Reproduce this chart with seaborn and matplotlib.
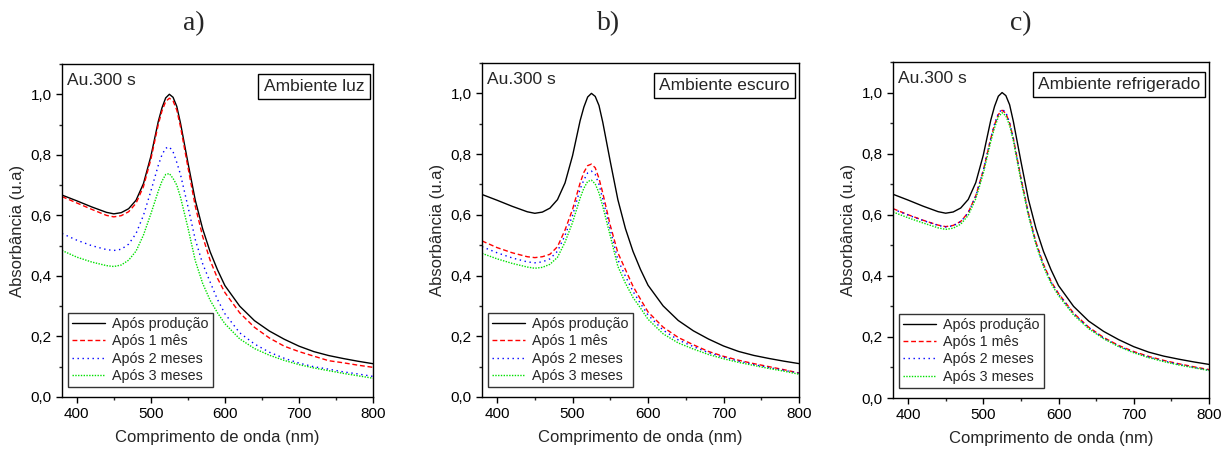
import numpy as np
import pandas as pd
import seaborn as sns
import matplotlib
matplotlib.use("Agg")
import matplotlib.pyplot as plt
from matplotlib.ticker import MultipleLocator, FuncFormatter

# Wavelength grid (nm)
wavelength = [380, 400, 420, 440, 450, 460, 470, 480, 490, 500, 510, 515, 520, 525,
              530, 535, 540, 550, 560, 570, 580, 590, 600, 620, 640, 660, 680, 700,
              720, 740, 760, 780, 800]

# Spectrum right after production (same sample in all panels)
apos_producao = [0.667, 0.648, 0.628, 0.610, 0.605, 0.609, 0.622, 0.650, 0.705, 0.795,
                 0.910, 0.955, 0.988, 1.000, 0.990, 0.960, 0.905, 0.775, 0.650, 0.555,
                 0.480, 0.420, 0.368, 0.300, 0.252, 0.218, 0.191, 0.168, 0.150, 0.137,
                 0.127, 0.118, 0.110]

# a) Ambiente luz
luz_1mes = [0.662, 0.641, 0.620, 0.600, 0.595, 0.599, 0.612, 0.640, 0.695, 0.785,
            0.900, 0.945, 0.976, 0.987, 0.978, 0.948, 0.893, 0.760, 0.630, 0.530,
            0.452, 0.392, 0.345, 0.278, 0.230, 0.195, 0.168, 0.150, 0.135, 0.120,
            0.113, 0.105, 0.098]
luz_2meses = [0.540, 0.518, 0.500, 0.487, 0.484, 0.488, 0.505, 0.540, 0.600, 0.680,
              0.765, 0.800, 0.822, 0.826, 0.810, 0.775, 0.735, 0.630, 0.520, 0.440,
              0.380, 0.322, 0.275, 0.212, 0.175, 0.148, 0.128, 0.112, 0.100, 0.092,
              0.083, 0.076, 0.068]
luz_3meses = [0.484, 0.462, 0.446, 0.434, 0.431, 0.436, 0.452, 0.482, 0.535, 0.605,
              0.680, 0.713, 0.735, 0.738, 0.722, 0.700, 0.660, 0.560, 0.450, 0.375,
              0.320, 0.278, 0.242, 0.192, 0.160, 0.138, 0.121, 0.107, 0.096, 0.087,
              0.078, 0.070, 0.062]

# b) Ambiente escuro
escuro_1mes = [0.514, 0.492, 0.475, 0.462, 0.459, 0.462, 0.470, 0.495, 0.550, 0.618,
               0.705, 0.740, 0.762, 0.767, 0.755, 0.720, 0.672, 0.565, 0.475, 0.420,
               0.365, 0.322, 0.280, 0.230, 0.196, 0.172, 0.150, 0.134, 0.121, 0.110,
               0.100, 0.090, 0.079]
escuro_2meses = [0.495, 0.475, 0.458, 0.445, 0.442, 0.445, 0.455, 0.480, 0.532, 0.598,
                 0.685, 0.715, 0.738, 0.744, 0.733, 0.700, 0.652, 0.550, 0.452, 0.398,
                 0.348, 0.308, 0.270, 0.220, 0.188, 0.166, 0.146, 0.131, 0.118, 0.107,
                 0.097, 0.088, 0.078]
escuro_3meses = [0.473, 0.455, 0.440, 0.428, 0.424, 0.427, 0.437, 0.460, 0.510, 0.575,
                 0.655, 0.688, 0.710, 0.714, 0.702, 0.672, 0.628, 0.530, 0.430, 0.375,
                 0.328, 0.293, 0.256, 0.208, 0.178, 0.158, 0.140, 0.126, 0.114, 0.104,
                 0.094, 0.085, 0.075]

# c) Ambiente refrigerado
refrig_1mes = [0.620, 0.600, 0.582, 0.566, 0.561, 0.565, 0.578, 0.607, 0.662, 0.745,
               0.850, 0.895, 0.928, 0.942, 0.932, 0.900, 0.850, 0.720, 0.605, 0.510,
               0.438, 0.382, 0.342, 0.278, 0.232, 0.198, 0.172, 0.152, 0.136, 0.123,
               0.112, 0.102, 0.093]
refrig_2meses = [0.618, 0.599, 0.581, 0.565, 0.560, 0.564, 0.577, 0.606, 0.661, 0.745,
                 0.851, 0.897, 0.932, 0.946, 0.935, 0.901, 0.849, 0.718, 0.602, 0.507,
                 0.435, 0.380, 0.340, 0.276, 0.230, 0.196, 0.170, 0.150, 0.134, 0.121,
                 0.110, 0.100, 0.091]
refrig_3meses = [0.609, 0.590, 0.573, 0.557, 0.552, 0.556, 0.569, 0.598, 0.652, 0.735,
                 0.840, 0.885, 0.920, 0.934, 0.924, 0.892, 0.842, 0.712, 0.597, 0.502,
                 0.430, 0.375, 0.335, 0.272, 0.227, 0.194, 0.168, 0.148, 0.132, 0.119,
                 0.108, 0.099, 0.090]

series_labels = ["Após produção", "Após 1 mês", "Após 2 meses", "Após 3 meses"]
panel_titles = ["a)", "b)", "c)"]
ambientes = ["Ambiente luz", "Ambiente escuro", "Ambiente refrigerado"]
panels = [
    [apos_producao, luz_1mes, luz_2meses, luz_3meses],
    [apos_producao, escuro_1mes, escuro_2meses, escuro_3meses],
    [apos_producao, refrig_1mes, refrig_2meses, refrig_3meses],
]

colors = ["#000000", "#ff0000", "#0000ff", "#00e000"]
styles = ["-", (0, (3.5, 2.0)), (0, (1.0, 2.6)), (0, (1.0, 1.0))]
widths = [1.0, 1.0, 1.0, 1.0]

sns.set_style("ticks")
plt.rcParams["font.family"] = ["Liberation Sans", "DejaVu Sans"]

fig = plt.figure(figsize=(12.31, 4.53), dpi=100)
positions = [
    [62 / 1231, 56 / 453, 311 / 1231, 333 / 453],
    [482 / 1231, 56 / 453, 317 / 1231, 334 / 453],
    [893 / 1231, 55 / 453, 316 / 1231, 336 / 453],
]
title_x = [194, 609, 1021]

comma = FuncFormatter(lambda v, _: f"{v:.1f}".replace(".", ","))

for i, (pos, curves) in enumerate(zip(positions, panels)):
    ax = fig.add_axes(pos)
    for vals, lab, col, ls, lw in zip(curves, series_labels, colors, styles, widths):
        df = pd.DataFrame({"wl": wavelength, "abs": vals})
        sns.lineplot(data=df, x="wl", y="abs", ax=ax, color=col, linestyle=ls,
                     linewidth=lw, label=lab)
    ax.set_xlim(380, 800)
    ax.set_ylim(0, 1.1)
    ax.xaxis.set_major_locator(MultipleLocator(100))
    ax.xaxis.set_minor_locator(MultipleLocator(50))
    ax.yaxis.set_major_locator(MultipleLocator(0.2))
    ax.yaxis.set_minor_locator(MultipleLocator(0.1))
    ax.yaxis.set_major_formatter(comma)
    ax.tick_params(axis="both", which="major", direction="out", length=4.5,
                   width=1, labelsize=11, colors="#000000", pad=3)
    ax.tick_params(axis="both", which="minor", direction="out", length=2.5, width=1)
    for sp in ax.spines.values():
        sp.set_visible(True)
        sp.set_color("black")
        sp.set_linewidth(1.0)
    ax.set_xlabel("Comprimento de onda (nm)", fontsize=12, labelpad=6)
    ax.set_ylabel("Absorbância (u.a)", fontsize=12, labelpad=4)

    ax.text(0.016, 0.972, "Au.300 s", transform=ax.transAxes, fontsize=12.5,
            ha="left", va="top")
    ax.text(0.972, 0.955, ambientes[i], transform=ax.transAxes, fontsize=12.5,
            ha="right", va="top",
            bbox=dict(boxstyle="square,pad=0.3", facecolor="white",
                      edgecolor="black", linewidth=1.0))

    leg = ax.legend(loc="lower left", bbox_to_anchor=(0.018, 0.03), fontsize=10.3,
                    frameon=True, fancybox=False, edgecolor="black",
                    handlelength=2.3, labelspacing=0.22, borderpad=0.3,
                    handletextpad=0.5, borderaxespad=0.0)
    leg.get_frame().set_linewidth(1.0)

    fig.text(title_x[i] / 1231, 1 - 24 / 453, panel_titles[i], fontsize=20,
             family=["Liberation Serif", "DejaVu Serif"], ha="center", va="center")

fig.savefig("out.png", dpi=100, facecolor="white")
